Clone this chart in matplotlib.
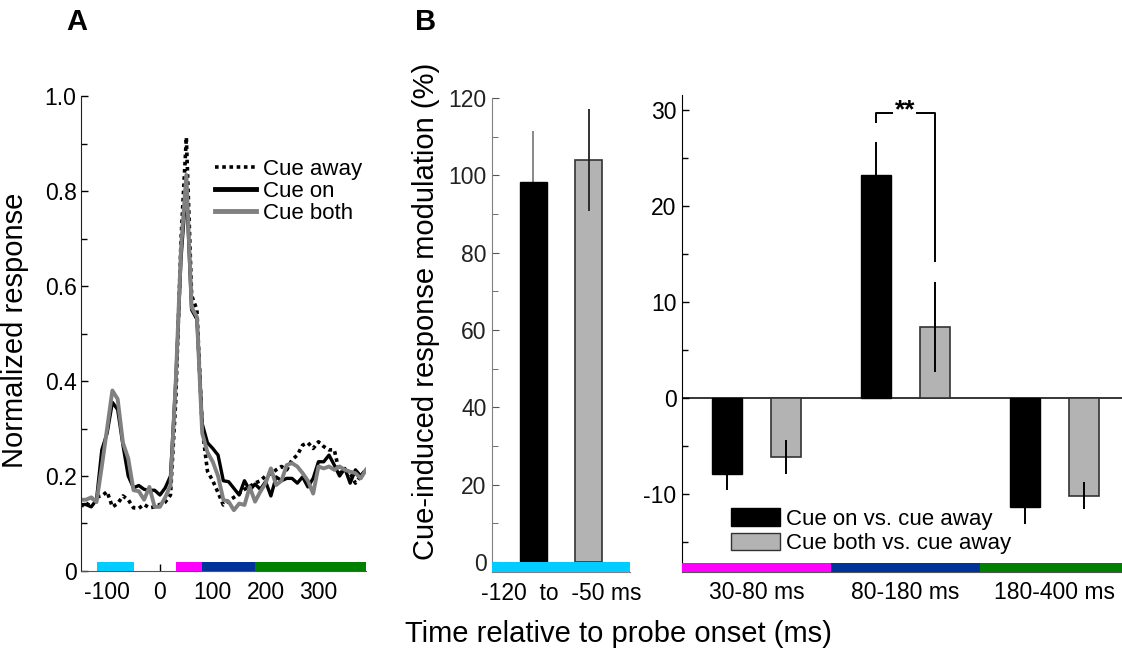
import numpy as np
import matplotlib
matplotlib.use("Agg")
import matplotlib.pyplot as plt
from matplotlib.patches import Patch
from matplotlib.lines import Line2D
from matplotlib.ticker import MultipleLocator, FixedLocator, FixedFormatter

plt.rcParams['font.family'] = ['Liberation Sans', 'DejaVu Sans']
plt.rcParams['axes.unicode_minus'] = False

# ---------------- data: panel A ----------------
time_ms = list(range(-150, 391, 10))
cue_away = [0.140, 0.135, 0.153, 0.156, 0.158, 0.167, 0.135, 0.142, 0.158, 0.150,
            0.133, 0.132, 0.140, 0.133, 0.135, 0.140, 0.145, 0.160, 0.360, 0.700,
            0.913, 0.580, 0.550, 0.300, 0.210, 0.190, 0.165, 0.139, 0.148, 0.155,
            0.163, 0.172, 0.178, 0.185, 0.190, 0.200, 0.205, 0.213, 0.220, 0.213,
            0.234, 0.244, 0.265, 0.270, 0.258, 0.272, 0.262, 0.255, 0.255, 0.206,
            0.213, 0.206, 0.185, 0.200, 0.213]
cue_on = [0.140, 0.140, 0.135, 0.150, 0.255, 0.290, 0.355, 0.340, 0.265, 0.200,
          0.175, 0.180, 0.172, 0.170, 0.170, 0.160, 0.175, 0.200, 0.400, 0.660,
          0.810, 0.550, 0.530, 0.310, 0.270, 0.258, 0.244, 0.190, 0.188, 0.174,
          0.160, 0.190, 0.170, 0.183, 0.172, 0.188, 0.158, 0.198, 0.190, 0.195,
          0.195, 0.185, 0.198, 0.177, 0.195, 0.230, 0.230, 0.244, 0.223, 0.200,
          0.216, 0.185, 0.213, 0.200, 0.213]
cue_both = [0.150, 0.150, 0.155, 0.145, 0.220, 0.300, 0.380, 0.362, 0.270, 0.237,
            0.170, 0.168, 0.150, 0.177, 0.135, 0.135, 0.155, 0.180, 0.400, 0.680,
            0.834, 0.555, 0.535, 0.290, 0.250, 0.230, 0.200, 0.150, 0.146, 0.128,
            0.142, 0.139, 0.177, 0.146, 0.167, 0.185, 0.216, 0.181, 0.190, 0.223,
            0.227, 0.220, 0.206, 0.190, 0.163, 0.220, 0.216, 0.220, 0.213, 0.220,
            0.213, 0.209, 0.206, 0.195, 0.213]
series_labels = ['Cue away', 'Cue on', 'Cue both']

# analysis windows (ms)
win_start = [-120, 30, 80, 180]
win_end = [-50, 80, 180, 390]
win_colors = ['#00ccff', '#ff00ff', '#003399', '#008000']

# ---------------- data: panel B ----------------
pre_label = '-120  to  -50 ms'
pre_on, pre_on_err = 98.2, 13.3
pre_both, pre_both_err = 104.0, 13.2

groups = ['30-80 ms', '80-180 ms', '180-400 ms']
on_vs_away = [-8.0, 23.27, -11.36]
on_vs_away_err = [1.6, 3.43, 1.8]
both_vs_away = [-6.15, 7.4, -10.2]
both_vs_away_err = [1.77, 4.7, 1.45]
bar_labels = ['Cue on vs. cue away', 'Cue both vs. cue away']
sig_text = '**'
sig_y = 29.7

BLACK = '#000000'
GRAY_LINE = '#808080'
GRAY_BAR = '#b3b3b3'

fig = plt.figure(figsize=(11.22, 6.51), dpi=100)

TICK_FS = 16.5
LABEL_FS = 21

# ---------------- Panel A ----------------
axA = fig.add_axes([0.0719, 0.1229, 0.2543, 0.7296])
axA.plot(time_ms, cue_away, color=BLACK, lw=2.6, ls=(0, (1, 1)), label=series_labels[0])
axA.plot(time_ms, cue_on, color=BLACK, lw=2.4, label=series_labels[1])
axA.plot(time_ms, cue_both, color=GRAY_LINE, lw=2.8, label=series_labels[2])
for s, e, c in zip(win_start, win_end, win_colors):
    axA.broken_barh([(s, e - s)], (0, 0.0196), facecolors=c, edgecolor='none', zorder=3)
axA.set_xlim(-150, 390)
axA.set_ylim(0, 1.0)
axA.xaxis.set_major_locator(FixedLocator([-100, 0, 100, 200, 300]))
axA.yaxis.set_major_locator(FixedLocator([0, 0.2, 0.4, 0.6, 0.8, 1.0]))
axA.yaxis.set_major_formatter(FixedFormatter(['0', '0.2', '0.4', '0.6', '0.8', '1.0']))
axA.yaxis.set_minor_locator(FixedLocator([0.1, 0.3, 0.5, 0.7, 0.9]))
axA.tick_params(which='both', direction='in', labelsize=TICK_FS, width=1)
axA.tick_params(which='major', length=5)
axA.tick_params(which='minor', length=4)
axA.tick_params(axis='y', pad=3)
axA.tick_params(axis='x', pad=7)
for sp in ['top', 'right']:
    axA.spines[sp].set_visible(False)
axA.spines['left'].set_color('#222222')
axA.spines['bottom'].set_color('#555555')
axA.set_ylabel('Normalized response', fontsize=LABEL_FS)
axA.yaxis.set_label_coords(-0.18, 0.507)
handlesA = [Line2D([], [], color=BLACK, lw=2.6, ls=(0, (1, 1))),
            Line2D([], [], color=BLACK, lw=3.5),
            Line2D([], [], color=GRAY_LINE, lw=3.5)]
axA.legend(handlesA, series_labels, loc='upper left', bbox_to_anchor=(0.47, 0.868),
           frameon=False, fontsize=16, handlelength=1.85, handletextpad=0.3,
           labelspacing=0.05, borderpad=0, borderaxespad=0)

# ---------------- Panel B left ----------------
axB1 = fig.add_axes([0.4385, 0.1214, 0.1230, 0.728])
xb = [0.8, 1.2]
axB1.bar(xb[0], pre_on, width=0.2, color=BLACK, edgecolor=BLACK, lw=1, zorder=2)
axB1.bar(xb[1], pre_both, width=0.2, color=GRAY_BAR, edgecolor='#333333', lw=1.2, zorder=2)
axB1.errorbar(xb[0], pre_on, yerr=pre_on_err, fmt='none', ecolor=GRAY_LINE, elinewidth=1.3, capsize=0, zorder=1)
axB1.errorbar(xb[1], pre_both, yerr=pre_both_err, fmt='none', ecolor='#222222', elinewidth=1.3, capsize=0, zorder=3)
axB1.set_xlim(0.5, 1.5)
axB1.set_ylim(-2.6, 120)
axB1.broken_barh([(0.5, 1.0)], (-2.6, 2.6), facecolors=win_colors[0], edgecolor='none', zorder=4)
axB1.yaxis.set_major_locator(MultipleLocator(20))
axB1.yaxis.set_minor_locator(MultipleLocator(10))
axB1.set_xticks([1.0])
axB1.set_xticklabels([pre_label])
axB1.tick_params(axis='x', length=0, labelsize=TICK_FS, pad=7)
axB1.tick_params(axis='y', which='both', direction='in', labelsize=TICK_FS, pad=4, color='#555555', labelcolor='#222222')
axB1.tick_params(axis='y', which='major', length=5)
axB1.tick_params(axis='y', which='minor', length=4)
for sp in ['top', 'right']:
    axB1.spines[sp].set_visible(False)
axB1.spines['left'].set_color(GRAY_LINE)
axB1.spines['bottom'].set_color(GRAY_LINE)
axB1.set_ylabel('Cue-induced response modulation (%)', fontsize=LABEL_FS)
axB1.yaxis.set_label_coords(-0.377, 0.549)

# ---------------- Panel B right ----------------
axB2 = fig.add_axes([0.6078, 0.1218, 0.3922, 0.7323])
xg = np.arange(1, len(groups) + 1)
axB2.bar(xg - 0.2, on_vs_away, width=0.2, color=BLACK, edgecolor=BLACK, lw=1, zorder=2)
axB2.bar(xg + 0.2, both_vs_away, width=0.2, color=GRAY_BAR, edgecolor='#333333', lw=1.2, zorder=2)
axB2.errorbar(xg - 0.2, on_vs_away, yerr=on_vs_away_err, fmt='none', ecolor=BLACK, elinewidth=1.4, capsize=0, zorder=1)
axB2.errorbar(xg + 0.2, both_vs_away, yerr=both_vs_away_err, fmt='none', ecolor=BLACK, elinewidth=1.4, capsize=0, zorder=3)
axB2.axhline(0, color=BLACK, lw=1.1, zorder=1)
ylo, yhi = -18.15, 31.6
axB2.set_xlim(0.5, 3.453)
axB2.set_ylim(ylo, yhi)
for i, c in enumerate(win_colors[1:]):
    axB2.broken_barh([(xg[i] - 0.5, 1.0)], (ylo, 0.95), facecolors=c, edgecolor='none', zorder=4)
axB2.set_xticks(xg)
axB2.set_xticklabels(groups)
axB2.yaxis.set_major_locator(MultipleLocator(10))
axB2.yaxis.set_minor_locator(MultipleLocator(5))
axB2.tick_params(which='both', direction='in', labelsize=TICK_FS, width=1)
axB2.tick_params(which='major', length=5)
axB2.tick_params(which='minor', length=4)
axB2.tick_params(axis='y', pad=4)
axB2.tick_params(axis='x', pad=7)
for sp in ['top', 'right']:
    axB2.spines[sp].set_visible(False)
axB2.spines['bottom'].set_color('#555555')
# significance bracket between the two bars of group 2
xl, xr = xg[1] - 0.2, xg[1] + 0.2
axB2.plot([xl, xl, xl + 0.11], [sig_y - 0.95, sig_y, sig_y], color=BLACK, lw=1.4, zorder=5)
axB2.plot([xr - 0.125, xr, xr], [sig_y, sig_y, 14.25], color=BLACK, lw=1.4, zorder=5)
axB2.text(xg[1], sig_y + 0.3, sig_text, ha='center', va='center', fontsize=19, fontweight='bold')
handlesB = [Patch(facecolor=BLACK, edgecolor=BLACK), Patch(facecolor=GRAY_BAR, edgecolor='#333333')]
axB2.legend(handlesB, bar_labels, loc='lower left', bbox_to_anchor=(0.112, 0.037),
            frameon=False, fontsize=16, handlelength=2.2, handleheight=0.85,
            handletextpad=0.25, labelspacing=0.12, borderpad=0, borderaxespad=0)

# ---------------- shared texts ----------------
fig.text(0.551, 0.026, 'Time relative to probe onset (ms)', ha='center', va='center', fontsize=LABEL_FS)
fig.text(0.0686, 0.966, 'A', ha='center', va='center', fontsize=21, fontweight='bold')
fig.text(0.379, 0.966, 'B', ha='center', va='center', fontsize=21, fontweight='bold')

fig.savefig('out.png', dpi=100)
